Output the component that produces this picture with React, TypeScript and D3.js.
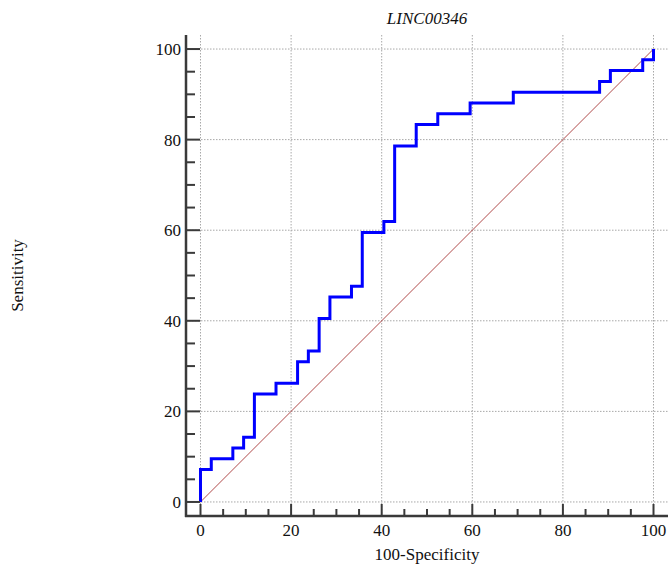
import { useEffect, useRef } from "react";
import * as d3 from "d3";

const WIDTH = 668;
const HEIGHT = 564;
const FRAME = { left: 186, right: 668, top: 35, bottom: 516 };

// ROC corner points (100-Specificity, Sensitivity)
const fpr = [0, 0, 2.38, 7.14, 9.52, 11.9, 16.67, 21.43, 23.81, 26.19, 28.57, 33.33, 35.71, 40.48, 42.86, 47.62, 52.38, 59.52, 69.05, 88.1, 90.48, 97.62, 100];
const sensitivity = [0, 7.14, 9.52, 11.9, 14.29, 23.81, 26.19, 30.95, 33.33, 40.48, 45.24, 47.62, 59.52, 61.9, 78.57, 83.33, 85.71, 88.1, 90.48, 92.86, 95.24, 97.62, 100];

const majorTicks = [0, 20, 40, 60, 80, 100];
const minorTicks = d3.range(0, 101, 5);
const title = "LINC00346";
const xLabel = "100-Specificity";
const yLabel = "Sensitivity";

const FONT = "'Liberation Serif', 'Times New Roman', serif";

const App = () => {
  const axesRef = useRef<SVGGElement | null>(null);

  const xScale = d3.scaleLinear().domain([-3.2, 103.2]).range([FRAME.left, FRAME.right]);
  const yScale = d3.scaleLinear().domain([-3.1, 103.1]).range([FRAME.bottom, FRAME.top]);

  const points = fpr.map((x, i) => [x, sensitivity[i]] as [number, number]);
  const rocLine = d3
    .line<[number, number]>()
    .x((d) => xScale(d[0]))
    .y((d) => yScale(d[1]))
    .curve(d3.curveStepAfter);

  // axes drawn with d3, not react
  useEffect(() => {
    const g = d3.select(axesRef.current);
    g.selectAll("*").remove();
    const axisColor = "#3a3a3a";

    // left axis
    g.append("line")
      .attr("x1", FRAME.left).attr("x2", FRAME.left)
      .attr("y1", FRAME.top).attr("y2", FRAME.bottom + 1)
      .attr("stroke", axisColor).attr("stroke-width", 2.5);
    // bottom axis
    g.append("line")
      .attr("x1", FRAME.left - 1).attr("x2", FRAME.right)
      .attr("y1", FRAME.bottom).attr("y2", FRAME.bottom)
      .attr("stroke", axisColor).attr("stroke-width", 2.5);

    minorTicks.forEach((t) => {
      const major = t % 20 === 0;
      g.append("line")
        .attr("x1", FRAME.left).attr("x2", FRAME.left + (major ? 14 : 9))
        .attr("y1", yScale(t)).attr("y2", yScale(t))
        .attr("stroke", axisColor).attr("stroke-width", 2);
      g.append("line")
        .attr("x1", xScale(t)).attr("x2", xScale(t))
        .attr("y1", FRAME.bottom).attr("y2", FRAME.bottom - (major ? 12 : 7))
        .attr("stroke", axisColor).attr("stroke-width", 2);
    });

    majorTicks.forEach((t) => {
      g.append("text")
        .attr("x", FRAME.left - 5).attr("y", yScale(t))
        .attr("dy", "0.35em")
        .attr("text-anchor", "end")
        .attr("font-family", FONT).attr("font-size", 17)
        .attr("fill", "#111")
        .text(t);
      g.append("text")
        .attr("x", xScale(t)).attr("y", 536)
        .attr("text-anchor", "middle")
        .attr("font-family", FONT).attr("font-size", 17)
        .attr("fill", "#111")
        .text(t);
    });
  }, []);

  return (
    <div style={{ position: "absolute", left: 0, top: 0 }}>
      <svg width={WIDTH} height={HEIGHT} style={{ display: "block" }}>
        <rect width={WIDTH} height={HEIGHT} fill="#fff" />
        {/* grid */}
        <g stroke="#a8a8a8" strokeWidth={1} strokeDasharray="1.5,1.5">
          {majorTicks.map((t) => (
            <line key={"h" + t} x1={FRAME.left} x2={FRAME.right} y1={yScale(t)} y2={yScale(t)} />
          ))}
          {majorTicks.map((t) => (
            <line key={"v" + t} x1={xScale(t)} x2={xScale(t)} y1={FRAME.top} y2={FRAME.bottom} />
          ))}
        </g>
        {/* reference diagonal */}
        <line
          x1={xScale(0)}
          y1={yScale(0)}
          x2={xScale(100)}
          y2={yScale(100)}
          stroke="#b04a4a"
          strokeWidth={1}
        />
        {/* ROC curve */}
        <path d={rocLine(points) ?? ""} fill="none" stroke="#0000ff" strokeWidth={3} />
        <g ref={axesRef} />
        <text
          x={xScale(50)}
          y={24}
          textAnchor="middle"
          fontFamily={FONT}
          fontStyle="italic"
          fontSize={17}
          fill="#111"
        >
          {title}
        </text>
        <text x={xScale(50)} y={560} textAnchor="middle" fontFamily={FONT} fontSize={17} fill="#111">
          {xLabel}
        </text>
        <text
          transform={`translate(17, ${yScale(50)}) rotate(-90)`}
          textAnchor="middle"
          dy="0.35em"
          fontFamily={FONT}
          fontSize={17}
          fill="#111"
        >
          {yLabel}
        </text>
      </svg>
    </div>
  );
};

export default App;
